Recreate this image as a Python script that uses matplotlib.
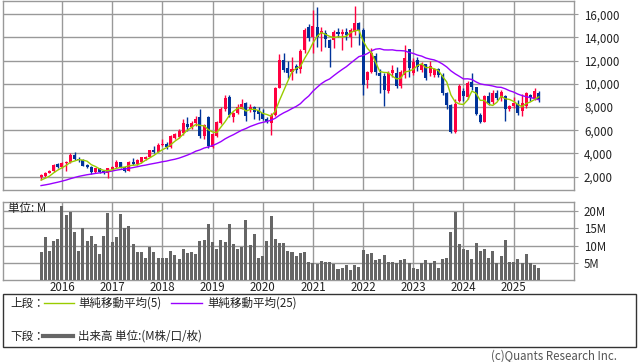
import numpy as np
import matplotlib
matplotlib.use('Agg')
import matplotlib.pyplot as plt
from matplotlib.patches import Rectangle
from matplotlib.lines import Line2D

plt.rcParams['font.family'] = ['Noto Sans CJK JP', 'DejaVu Sans']

# ---- data: monthly candles, month 0 = Aug 2015 ... month 119 = Jul 2025 ----
years = ['2016', '2017', '2018', '2019', '2020', '2021', '2022', '2023', '2024', '2025']
price_ticks = [2000, 4000, 6000, 8000, 10000, 12000, 14000, 16000]
volume_ticks = [5, 10, 15, 20]

opens = [1980, 2050, 2330, 2450, 3100, 2850, 3150, 3300, 3850, 3550,
         3450, 2980, 2850, 2400, 2700, 2500, 2300, 2680, 2820, 3250,
         2800, 2520, 3300, 3080, 3250, 3550, 3700, 4250, 4150, 4700,
         4850, 4560, 5300, 5450, 5750, 6500, 6300, 6650, 7150, 5500,
         7100, 4560, 5500, 6630, 7870, 8880, 7150, 7500, 7870, 8360,
         7730, 8000, 7730, 7500, 7010, 6630, 7300, 9680, 12100, 11400,
         11040, 11500, 11300, 12910, 14930, 14060, 14930, 14350, 14350, 13780,
         13780, 14450, 14300, 14500, 14060, 14500, 15220, 14640, 10320, 11040,
         12400, 10950, 10660, 9400, 10950, 10950, 9800, 10750, 13000, 10950,
         12050, 11180, 11750, 10900, 10750, 11250, 10750, 9170, 8160, 5870,
         8550, 9400, 8880, 10180, 9690, 7300, 6720, 8930, 8440, 9220,
         8760, 8930, 7870, 8070, 8220, 7640, 8070, 9000, 8760, 9220]
highs = [2200, 2400, 2560, 3100, 3180, 3250, 3350, 4000, 4150, 3700,
         3480, 3050, 2880, 2750, 2750, 2580, 2750, 2900, 3450, 3300,
         2850, 3350, 3600, 3480, 3700, 3800, 4300, 4600, 4900, 5200,
         5000, 5600, 5800, 6100, 7000, 7100, 6800, 7200, 7850, 6500,
         7200, 5800, 6800, 8000, 9000, 9050, 7600, 8300, 8700, 8400,
         8300, 8100, 8000, 7800, 7150, 7500, 9750, 12600, 12650, 12000,
         12300, 11700, 13000, 14800, 15200, 16370, 16600, 14900, 14640, 13900,
         14640, 14800, 14700, 14800, 14800, 16680, 15300, 14800, 11100, 13060,
         12700, 11300, 10900, 11100, 11600, 11470, 11200, 13340, 13000, 12200,
         12300, 11900, 11750, 12000, 11400, 11400, 10900, 9300, 8300, 8700,
         10000, 9600, 10250, 10900, 9700, 7500, 9000, 9300, 9500, 9500,
         9500, 9000, 8200, 8900, 8600, 9100, 9300, 9100, 9600, 9350]
lows = [1700, 1950, 2280, 2380, 2750, 2750, 2450, 3200, 3400, 3300,
        2900, 2780, 2250, 2300, 2350, 2200, 1900, 2600, 2750, 2750,
        2400, 2450, 3000, 3000, 3150, 3450, 3650, 4000, 4100, 4600,
        4400, 4450, 5200, 5300, 5600, 5900, 6100, 6400, 5300, 5200,
        4450, 4450, 5400, 6500, 7700, 7150, 6700, 7400, 7800, 6800,
        7600, 7000, 6900, 6900, 6650, 5550, 7200, 9600, 11000, 10500,
        10300, 10900, 10900, 12700, 13700, 12700, 13200, 12800, 13200, 11470,
        13060, 14000, 12900, 13800, 13200, 14200, 13340, 9020, 9600, 10900,
        10750, 9170, 8070, 9200, 10600, 9650, 9600, 10500, 10600, 10750,
        11100, 11000, 10300, 10700, 10600, 10600, 9000, 7800, 5750, 5800,
        8400, 8500, 8700, 9500, 7300, 6600, 6700, 8200, 8300, 8600,
        8500, 6780, 7700, 7900, 7300, 7200, 7900, 8500, 8600, 8400]
closes = [2150, 2330, 2480, 3000, 2850, 3150, 3300, 3900, 3500, 3450,
          2950, 2850, 2400, 2700, 2420, 2300, 2700, 2820, 3300, 2800,
          2480, 3250, 3080, 3400, 3650, 3700, 4250, 4150, 4700, 4800,
          4560, 5500, 5700, 5950, 6600, 6300, 6650, 7000, 5500, 6450,
          4600, 5700, 6720, 7870, 8750, 7300, 7500, 8020, 8220, 7200,
          8020, 7580, 7440, 7010, 6720, 7300, 9680, 12100, 11180, 10900,
          11320, 11200, 12860, 14640, 13920, 15000, 14000, 14600, 13830, 13060,
          14500, 14300, 14500, 14200, 14640, 15220, 14600, 9880, 11040, 12680,
          11040, 10660, 9510, 10950, 11180, 9800, 11000, 12190, 11330, 11900,
          11470, 11750, 10500, 11500, 11250, 10750, 9170, 8160, 5860, 8300,
          9830, 8930, 10100, 9690, 7440, 6720, 8930, 8360, 9220, 8820,
          9300, 7870, 8070, 8360, 7500, 8360, 9220, 8760, 9400, 8650]
# closes of the 24 months before Aug 2015 (only used for the moving averages)
prior_closes = [800, 820, 850, 880, 900, 930, 960, 1000, 1030, 1060, 1100, 1130,
                1160, 1200, 1250, 1300, 1350, 1400, 1450, 1500, 1550, 1580, 1600, 1620]
volumes = [8.2, 12.4, 8.6, 11.3, 11.8, 21.5, 18.9, 19.8, 13.9, 8.6,
           15.0, 11.3, 12.7, 10.4, 7.5, 12.7, 19.4, 11.0, 12.4, 19.1,
           15.0, 15.6, 10.4, 8.3, 8.1, 6.6, 9.5, 8.3, 6.6, 6.6,
           6.6, 8.6, 7.2, 6.3, 9.2, 7.8, 8.3, 7.5, 11.3, 11.6,
           16.2, 11.0, 9.2, 11.6, 11.0, 16.2, 10.4, 9.2, 9.5, 17.4,
           10.1, 13.3, 6.6, 6.9, 11.3, 18.5, 11.8, 10.7, 10.7, 8.6,
           8.1, 6.9, 7.8, 8.3, 5.4, 5.1, 4.6, 5.7, 5.4, 5.4,
           4.6, 3.4, 3.7, 4.3, 3.1, 4.3, 4.0, 8.9, 7.5, 7.8,
           6.0, 6.3, 7.2, 5.4, 5.4, 4.9, 6.0, 6.3, 5.1, 3.7,
           3.4, 4.9, 6.0, 5.1, 5.7, 3.7, 6.3, 6.6, 13.9, 19.8,
           10.4, 9.2, 8.9, 6.3, 10.7, 8.6, 9.2, 6.6, 8.6, 5.1,
           6.9, 11.6, 5.4, 5.4, 6.3, 5.1, 7.5, 4.9, 4.3, 3.7]
first_month_offset = 5   # Aug 2015 is 5 months before Jan 2016

# ---- figure ----
W, H = 638, 362
fig = plt.figure(figsize=(W / 100, H / 100), dpi=100)
fig.patch.set_facecolor('white')

def ax_rect(x0, y0, x1, y1):
    return [x0 / W, 1 - y1 / H, (x1 - x0) / W, (y1 - y0) / H]

GRID = '#999999'
UP = '#ff0040'
DOWN = '#003399'
FS = 8.3
TXT = '#222222'

ax = fig.add_axes(ax_rect(3, 0.5, 574.3, 190.3))
axv = fig.add_axes(ax_rect(3, 201.7, 574.3, 280.4))

o = np.array(opens, float)
h = np.array(highs, float)
l = np.array(lows, float)
c = np.array(closes, float)
x = np.arange(len(c)) - first_month_offset  # 0 = Jan 2016

allc = np.concatenate([prior_closes, c])
ma5 = np.convolve(allc, np.ones(5) / 5, mode='valid')[-len(c):]
ma25 = np.convolve(allc, np.ones(25) / 25, mode='valid')[-len(c):]

colors = np.where(c >= o, UP, DOWN)
ax.vlines(x, l, h, colors=colors, linewidth=1.0, zorder=3)
body_lo = np.minimum(o, c)
body_h = np.maximum(np.abs(c - o), 40)
ax.bar(x, body_h, bottom=body_lo, width=0.72, color=colors, linewidth=0, zorder=4)
ax.plot(x, ma25, color='#9900ff', linewidth=1.0, zorder=5)
ax.plot(x, ma5, color='#99cc00', linewidth=1.0, zorder=6)

year_pos = [12 * i for i in range(len(years))]
xlim = (-14.1, 122.5)
for a in (ax, axv):
    a.set_xlim(*xlim)
    a.set_xticks(year_pos)
    a.grid(True, color=GRID, linewidth=1.0)
    a.set_axisbelow(True)
    for s in a.spines.values():
        s.set_color(GRID)
        s.set_linewidth(1.0)
    a.yaxis.tick_right()
    a.tick_params(axis='y', length=3, color=GRID, pad=4, labelsize=FS, labelcolor=TXT)
    a.tick_params(axis='x', length=0, labelsize=FS, labelcolor=TXT, pad=0.5)

ax.set_ylim(816, 17190)
ax.set_yticks(price_ticks)
ax.set_yticklabels([f'{v:,}' for v in price_ticks])
ax.set_xticklabels([])

axv.bar(x, volumes, width=0.72, color='#666666', linewidth=0, zorder=3)
axv.set_ylim(0, 22.7)
axv.set_yticks(volume_ticks)
axv.set_yticklabels([f'{v}M' for v in volume_ticks])
axv.set_xticklabels(years)
axv.text(0.008, 0.995, '単位: M', transform=axv.transAxes, ha='left', va='top',
         fontsize=FS, color=TXT, zorder=10)

# ---- legend box ----
def fx(px):
    return px / W

def fy(py):
    return 1 - py / H

fig.add_artist(Rectangle((fx(3), fy(347)), fx(636) - fx(3), fy(294) - fy(347),
                         transform=fig.transFigure, fill=False, edgecolor='#333333', linewidth=1.0))
r1, r2 = 303, 336
fig.text(fx(10), fy(r1), '上段：', fontsize=FS, va='center', ha='left', color=TXT)
fig.add_artist(Line2D([fx(44), fx(74)], [fy(r1), fy(r1)], color='#99cc00', linewidth=1.0,
                      transform=fig.transFigure))
fig.text(fx(78), fy(r1), '単純移動平均(5)', fontsize=FS, va='center', ha='left', color=TXT)
fig.add_artist(Line2D([fx(171), fx(202)], [fy(r1), fy(r1)], color='#9900ff', linewidth=1.0,
                      transform=fig.transFigure))
fig.text(fx(207), fy(r1), '単純移動平均(25)', fontsize=FS, va='center', ha='left', color=TXT)
fig.text(fx(10), fy(r2), '下段：', fontsize=FS, va='center', ha='left', color=TXT)
fig.add_artist(Line2D([fx(43), fx(73)], [fy(r2), fy(r2)], color='#666666', linewidth=3.0,
                      transform=fig.transFigure))
fig.text(fx(78), fy(r2), '出来高 単位:(M株/口/枚)', fontsize=FS, va='center', ha='left', color=TXT)
fig.text(fx(617), fy(356), '(c)Quants Research Inc.', fontsize=FS, va='center', ha='right',
         color='#555555')

fig.savefig('out.png', dpi=100, facecolor='white')
